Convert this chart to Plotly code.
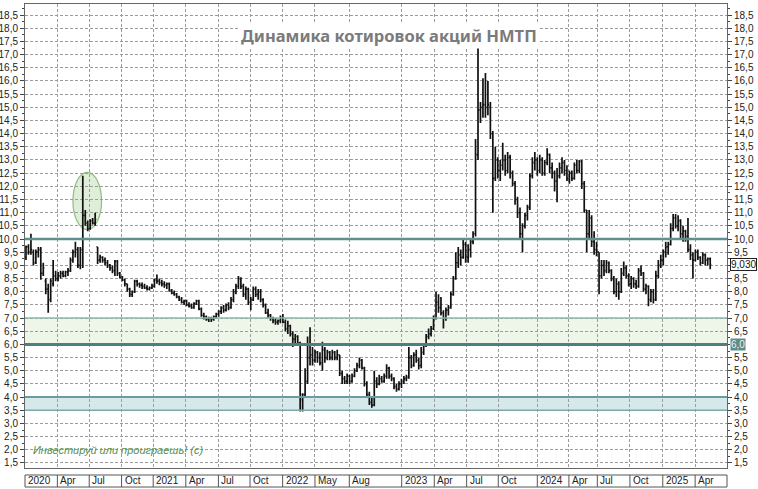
import plotly.graph_objects as go

# Weekly OHLC of NMTP shares, index = trading week counted from the first week of 2020
week_open = [
    9.3, 9.7, 9.5, 9.5, 9.1, 9.5, 9.6, 8.7, 8.4, 8.1,
    7.7, 8.3, 8.6, 8.5, 8.6, 8.7, 8.6, 8.75, 8.8, 9.2,
    9.5, 9.6, 9.0, 9.6, 10.9, 10.6, 10.4, 10.7, 10.6, 9.7,
    9.2, 9.3, 9.2, 9.1, 9.0, 8.9, 8.8, 9.15, 8.7, 8.55,
    8.45, 8.3, 8.1, 7.9, 8.0, 8.4, 8.3, 8.25, 8.2, 8.15,
    8.1, 8.15, 8.2, 8.45, 8.4, 8.35, 8.3, 8.25, 8.3, 8.05,
    7.95, 7.9, 7.8, 7.7, 7.6, 7.65, 7.5, 7.45, 7.4, 7.55,
    7.65, 7.35, 7.1, 7.05, 6.95, 7.0, 6.95, 7.05, 7.15, 7.25,
    7.4, 7.3, 7.5, 7.4, 7.7, 8.0, 8.2, 8.5, 8.2, 7.9,
    8.1, 7.6, 7.7, 8.1, 7.9, 8.0, 7.7, 7.5, 7.2, 7.1,
    7.0, 6.9, 6.85, 6.9, 7.0, 6.85, 6.6, 6.7, 6.4, 6.2,
    6.3, 6.05, 3.9, 4.1, 4.6, 5.5, 5.6, 5.4, 5.7, 5.5,
    5.3, 5.8, 5.5, 5.7, 5.5, 5.7, 5.5, 5.6, 4.9, 4.7,
    4.6, 4.8, 4.6, 4.8, 5.0, 5.2, 5.4, 5.1, 4.5, 4.1,
    3.8, 3.7, 4.6, 4.5, 4.7, 4.6, 4.8, 5.1, 4.8, 4.7,
    4.4, 4.3, 4.5, 4.6, 4.7, 4.75, 5.5, 5.2, 5.6, 5.4,
    5.2, 5.7, 5.95, 6.3, 6.4, 6.6, 7.0, 7.6, 7.4, 7.2,
    7.0, 7.3, 7.4, 7.9, 8.5, 9.1, 9.4, 9.3, 9.8, 9.3,
    9.6, 9.9, 10.2, 13.2, 14.9, 15.0, 15.1, 15.0, 15.0, 14.0,
    12.3, 13.0, 12.6, 12.8, 13.0, 12.6, 13.1, 12.5, 12.1, 11.5,
    11.0, 10.2, 10.5, 10.9, 11.2, 12.4, 12.9, 13.0, 12.6, 13.0,
    12.5, 12.9, 13.2, 12.7, 12.5, 12.2, 12.4, 12.7, 12.9, 12.6,
    12.3, 12.5, 12.3, 12.8, 12.6, 12.95, 12.1, 11.1, 10.2, 10.8,
    9.9, 9.6, 9.5, 8.6, 9.0, 8.8, 9.1, 8.8, 8.5, 8.0,
    8.3, 8.0, 8.7, 8.9, 8.6, 8.3, 8.5, 8.3, 8.2, 8.8,
    8.7, 8.1, 8.2, 7.7, 8.0, 7.7, 8.6, 9.0, 9.2, 9.5,
    9.7, 9.8, 10.4, 10.8, 10.5, 10.7, 10.2, 10.3, 10.1, 9.6,
    9.4, 9.2, 9.5, 9.3, 9.1, 9.4, 9.2, 9.25,
]
week_high = [
    9.75, 9.8, 10.2, 9.6, 9.6, 9.7, 9.7, 9.1, 8.5, 8.3,
    8.5, 9.2, 8.8, 8.75, 8.8, 8.8, 8.8, 8.9, 9.3, 9.6,
    9.9, 9.7, 9.7, 12.4, 11.1, 10.7, 10.75, 10.8, 11.0, 9.7,
    9.4, 9.35, 9.3, 9.2, 9.05, 9.0, 9.2, 9.2, 8.75, 8.6,
    8.5, 8.3, 8.15, 8.05, 8.45, 8.45, 8.35, 8.35, 8.3, 8.25,
    8.2, 8.3, 8.5, 8.65, 8.5, 8.45, 8.4, 8.35, 8.35, 8.1,
    8.05, 7.95, 7.85, 7.8, 7.7, 7.7, 7.6, 7.55, 7.6, 7.7,
    7.7, 7.4, 7.2, 7.1, 7.05, 7.05, 7.1, 7.2, 7.3, 7.45,
    7.5, 7.55, 7.6, 7.8, 8.1, 8.3, 8.6, 8.55, 8.3, 8.2,
    8.15, 7.8, 8.2, 8.2, 8.1, 8.1, 7.75, 7.55, 7.35, 7.15,
    7.05, 7.0, 6.95, 7.1, 7.15, 6.95, 6.9, 6.75, 6.5, 6.4,
    6.35, 6.1, 4.15, 5.1, 6.3, 6.65, 5.9, 5.8, 5.75, 5.7,
    6.1, 5.9, 5.8, 5.75, 5.8, 5.75, 5.8, 5.6, 5.0, 4.8,
    4.9, 4.85, 4.9, 5.1, 5.3, 5.5, 5.45, 5.15, 4.6, 4.2,
    4.0, 5.0, 4.75, 4.85, 4.8, 4.9, 5.25, 5.15, 4.9, 4.75,
    4.5, 4.6, 4.7, 4.8, 4.85, 5.9, 5.6, 5.7, 5.8, 5.5,
    5.9, 6.0, 6.4, 6.6, 6.7, 7.1, 8.0, 7.9, 7.8, 7.3,
    7.4, 7.5, 8.0, 8.6, 9.5, 9.7, 9.6, 10.0, 9.9, 9.8,
    10.0, 10.3, 13.8, 17.4, 15.2, 16.1, 16.3, 16.0, 15.2, 14.1,
    13.5, 13.1, 13.0, 13.65, 13.2, 13.3, 13.2, 12.6, 12.2, 11.6,
    11.2, 10.6, 11.0, 11.3, 12.5, 13.1, 13.3, 13.1, 13.2, 13.1,
    13.0, 13.45, 13.25, 12.9, 12.6, 12.7, 12.9, 13.1, 13.0, 12.8,
    12.6, 12.6, 12.9, 13.0, 13.0, 13.0, 12.2, 11.1, 11.1, 10.9,
    10.3, 9.9, 9.5, 9.2, 9.2, 9.2, 9.15, 8.85, 8.6, 8.5,
    8.4, 8.9, 9.15, 9.0, 8.7, 8.6, 8.55, 8.45, 8.9, 9.0,
    8.75, 8.3, 8.25, 8.1, 8.1, 8.8, 9.2, 9.4, 9.6, 9.9,
    9.9, 10.6, 10.95, 10.95, 10.9, 10.75, 10.5, 10.35, 10.8, 9.8,
    9.5, 9.6, 9.6, 9.35, 9.5, 9.45, 9.3, 9.3,
]
week_low = [
    9.2, 9.4, 9.4, 9.0, 9.05, 9.3, 8.45, 8.6, 7.9, 7.2,
    7.6, 8.2, 8.4, 8.4, 8.5, 8.55, 8.55, 8.6, 8.75, 9.1,
    9.3, 8.9, 8.85, 8.9, 10.5, 10.3, 10.35, 10.55, 10.5, 9.05,
    9.1, 9.1, 9.0, 8.9, 8.8, 8.7, 8.6, 8.6, 8.5, 8.4,
    8.2, 8.0, 7.8, 7.8, 7.95, 8.2, 8.15, 8.1, 8.1, 8.05,
    8.05, 8.1, 8.15, 8.3, 8.25, 8.2, 8.15, 8.1, 8.0, 7.9,
    7.85, 7.75, 7.65, 7.55, 7.5, 7.45, 7.4, 7.35, 7.35, 7.5,
    7.3, 7.05, 6.95, 6.9, 6.85, 6.85, 6.9, 7.0, 7.05, 7.15,
    7.2, 7.25, 7.3, 7.35, 7.6, 7.9, 8.1, 8.1, 7.8, 7.7,
    7.5, 7.3, 7.65, 7.8, 7.7, 7.6, 7.4, 7.15, 7.0, 6.9,
    6.8, 6.75, 6.75, 6.8, 6.8, 6.5, 6.4, 6.3, 5.9, 6.05,
    5.95, 3.45, 3.45, 4.0, 4.5, 5.2, 5.2, 5.3, 5.3, 5.2,
    5.0, 5.3, 5.4, 5.4, 5.4, 5.4, 5.4, 4.8, 4.5, 4.5,
    4.5, 4.5, 4.55, 4.75, 4.95, 5.1, 5.05, 4.4, 4.0, 3.7,
    3.6, 3.65, 4.35, 4.45, 4.55, 4.55, 4.7, 4.7, 4.6, 4.3,
    4.2, 4.25, 4.35, 4.5, 4.6, 4.7, 5.1, 5.15, 5.3, 5.05,
    5.1, 5.6, 5.9, 6.2, 6.3, 6.55, 6.95, 7.2, 7.1, 6.6,
    6.9, 7.1, 7.35, 7.85, 8.45, 8.9, 9.0, 9.25, 9.1, 9.1,
    9.3, 9.8, 10.1, 13.0, 14.4, 14.6, 14.6, 14.7, 13.8, 11.0,
    12.2, 12.3, 12.2, 12.6, 12.4, 12.5, 12.3, 12.0, 11.3, 10.8,
    10.0, 9.5, 10.4, 10.7, 11.1, 12.3, 12.6, 12.4, 12.5, 12.4,
    12.4, 12.8, 12.5, 12.3, 11.8, 11.4, 12.3, 12.5, 12.4, 12.2,
    12.1, 12.2, 12.25, 12.5, 12.5, 11.9, 11.0, 9.5, 10.0, 9.7,
    9.4, 9.35, 7.9, 8.5, 8.6, 8.7, 8.7, 8.4, 7.9, 7.8,
    7.7, 7.95, 8.6, 8.5, 8.2, 8.1, 8.15, 8.1, 8.15, 8.6,
    8.0, 7.9, 7.45, 7.6, 7.55, 7.65, 8.5, 8.9, 9.0, 9.3,
    9.4, 9.75, 10.3, 10.4, 10.3, 10.0, 9.9, 9.9, 9.5, 9.2,
    8.5, 9.15, 9.2, 9.0, 9.05, 9.0, 9.0, 8.85,
]
week_close = [
    9.7, 9.5, 9.6, 9.1, 9.5, 9.6, 8.7, 8.9, 8.1, 7.7,
    8.4, 8.6, 8.5, 8.6, 8.7, 8.6, 8.75, 8.8, 9.2, 9.5,
    9.6, 9.0, 9.6, 10.9, 10.6, 10.4, 10.7, 10.6, 10.75, 9.2,
    9.3, 9.2, 9.1, 9.0, 8.9, 8.8, 9.15, 8.7, 8.55, 8.45,
    8.3, 8.1, 7.9, 8.0, 8.4, 8.3, 8.25, 8.2, 8.15, 8.1,
    8.15, 8.2, 8.45, 8.4, 8.35, 8.3, 8.25, 8.3, 8.05, 7.95,
    7.9, 7.8, 7.7, 7.6, 7.65, 7.5, 7.45, 7.4, 7.55, 7.65,
    7.35, 7.1, 7.05, 6.95, 7.0, 6.95, 7.05, 7.15, 7.25, 7.4,
    7.3, 7.5, 7.4, 7.7, 8.0, 8.2, 8.5, 8.2, 7.9, 8.1,
    7.6, 7.7, 8.1, 7.9, 8.0, 7.7, 7.5, 7.2, 7.1, 7.0,
    6.9, 6.85, 6.9, 7.0, 6.85, 6.6, 6.7, 6.4, 6.2, 6.3,
    6.05, 4.1, 4.1, 4.6, 5.5, 5.6, 5.4, 5.7, 5.5, 5.3,
    5.8, 5.5, 5.7, 5.5, 5.7, 5.5, 5.6, 4.9, 4.7, 4.6,
    4.8, 4.6, 4.8, 5.0, 5.2, 5.4, 5.1, 4.5, 4.1, 3.8,
    3.7, 4.6, 4.5, 4.7, 4.6, 4.8, 5.1, 4.8, 4.7, 4.4,
    4.3, 4.5, 4.6, 4.7, 4.75, 5.5, 5.2, 5.6, 5.4, 5.2,
    5.7, 5.95, 6.3, 6.4, 6.6, 7.0, 7.6, 7.4, 7.2, 7.0,
    7.3, 7.4, 7.9, 8.5, 9.1, 9.4, 9.3, 9.8, 9.3, 9.6,
    9.9, 10.2, 13.2, 14.9, 15.0, 15.1, 15.0, 15.1, 14.0, 12.3,
    13.0, 12.6, 12.8, 13.0, 12.6, 13.1, 12.5, 12.1, 11.5, 11.0,
    10.2, 10.5, 10.9, 11.2, 12.4, 12.9, 13.0, 12.6, 13.0, 12.5,
    12.9, 13.2, 12.7, 12.5, 12.2, 12.4, 12.7, 12.9, 12.6, 12.3,
    12.5, 12.3, 12.8, 12.6, 12.95, 12.1, 11.1, 10.2, 10.8, 9.9,
    9.6, 9.5, 8.6, 9.0, 8.8, 9.1, 8.8, 8.5, 8.0, 8.3,
    8.0, 8.7, 8.9, 8.6, 8.3, 8.5, 8.3, 8.2, 8.8, 8.7,
    8.1, 8.2, 7.7, 8.0, 7.7, 8.6, 9.0, 9.2, 9.5, 9.7,
    9.8, 10.4, 10.8, 10.5, 10.7, 10.2, 10.3, 10.1, 9.6, 9.4,
    9.2, 9.5, 9.3, 9.1, 9.4, 9.2, 9.25, 9.03,
]
weeks = list(range(len(week_close)))

# date strip under the chart (week index where each label starts)
tick_weeks = [-0.4, 12.7, 25.6, 38.7, 51.5, 64.7, 77.9, 90.7, 103.9, 117, 130.9,
              152.1, 165.3, 178.4, 191.2, 207, 219.8, 231.3, 244.5, 257.8, 270.9]
tick_labels = ["2020", "Apr", "Jul", "Oct", "2021", "Apr", "Jul", "Oct", "2022", "May", "Aug",
               "2023", "Apr", "Jul", "Oct", "2024", "Apr", "Jul", "Oct", "2025", "Apr"]

# support / resistance levels
levels = [10.0, 7.0, 6.0, 4.0, 3.5]
level_colors = ["#5e9090", "#8bb8ad", "#4d7f7f", "#6a9c9c", "#7fa9a9"]
level_widths = [2.5, 1.5, 3, 2, 1.5]

last_price = 9.03
y_range = [1.31, 18.92]
x_range = [-0.4, 283.8]

# right scale: the 9,0 and 6,0 labels sit under the price tags
right_ticks = [v / 2 for v in range(3, 38) if v / 2 not in (6.0, 9.0)]

GRID = "#9c9c9c"
AXIS = "#666666"

fig = go.Figure()
for lv, col, w in zip(levels, level_colors, level_widths):
    fig.add_trace(go.Scatter(x=x_range, y=[lv, lv], mode="lines", line=dict(color=col, width=w),
                             showlegend=False, hoverinfo="skip", cliponaxis=True))
fig.add_trace(go.Ohlc(
    x=weeks, open=week_open, high=week_high, low=week_low, close=week_close,
    increasing_line_color="#111111", decreasing_line_color="#111111",
    line_width=1.7, tickwidth=0.45, showlegend=False,
))
# keeps the right-hand price axis alive
fig.add_trace(go.Scatter(x=[weeks[-1]], y=[week_close[-1]], yaxis="y2", mode="markers",
                         marker_opacity=0, showlegend=False, hoverinfo="skip"))

# shaded zones
fig.add_shape(type="rect", xref="x domain", x0=0, x1=1, yref="y", y0=6.0, y1=7.0,
              fillcolor="#eef6ea", line_width=0, layer="below")
fig.add_shape(type="rect", xref="x domain", x0=0, x1=1, yref="y", y0=3.5, y1=4.0,
              fillcolor="#d5e9ea", line_width=0, layer="below")

# highlighted June 2020 spike
fig.add_shape(type="circle", xref="x", yref="y", x0=19, x1=30.6, y0=10.36, y1=12.53,
              fillcolor="rgba(150,200,130,0.3)", line=dict(color="rgba(110,170,90,0.75)", width=1.2),
              layer="below")

# date strip
fig.add_shape(type="rect", xref="x domain", x0=0, x1=1, yref="paper", y0=-0.041, y1=-0.0151,
              line=dict(color="#555555", width=1), fillcolor="white", layer="above")
for tw, lab in zip(tick_weeks, tick_labels):
    if tw > 0:
        fig.add_shape(type="line", xref="x", x0=tw, x1=tw, yref="paper", y0=-0.041, y1=-0.0151,
                      line=dict(color="#555555", width=1), layer="above")
    fig.add_annotation(x=max(tw, x_range[0]), xref="x", y=-0.028, yref="paper", text=lab,
                       showarrow=False, xanchor="left", yanchor="middle", xshift=1,
                       font=dict(size=10, color="#222222"))

# title and watermark
fig.add_annotation(x=0.5185, xref="paper", y=0.961, yref="paper",
                   text="<b>Динамика котировок акций НМТП</b>", showarrow=False,
                   bgcolor="white", font=dict(family="Noto Sans", size=16.5, color="#7b7b7b"))
fig.add_annotation(x=0.008, xref="paper", y=2.0, yref="y", xanchor="left",
                   text="Инвестируй или проиграешь! (с)", showarrow=False,
                   font=dict(family="Liberation Sans", size=11, color="#5d8f4f", style="italic"))

# right-hand price tags
fig.add_annotation(x=1, xref="paper", y=last_price, yref="y", xanchor="left", xshift=3,
                   text="9,030", showarrow=False, bgcolor="white", bordercolor="#222222",
                   borderwidth=1, borderpad=0, font=dict(size=10, color="#111111"))
fig.add_annotation(x=1, xref="paper", y=6.0, yref="y", xanchor="left", xshift=3,
                   text="6,0", showarrow=False, bgcolor="#5a8c8c", borderpad=0,
                   font=dict(size=10, color="#e8f4f4"))

fig.update_layout(
    width=758, height=489,
    margin=dict(l=25, r=31, t=4, b=21),
    paper_bgcolor="white", plot_bgcolor="white",
    separators=", ",
    font=dict(family="Liberation Sans", size=10, color="#222222"),
    showlegend=False,
    xaxis=dict(range=x_range, tickvals=tick_weeks[1:], showticklabels=False, ticks="",
               showgrid=True, gridcolor=GRID, griddash="3px,2px", gridwidth=1,
               showline=True, mirror=True, linecolor=AXIS, linewidth=1, automargin=False,
               zeroline=False, rangeslider=dict(visible=False)),
    yaxis=dict(range=y_range, dtick=0.5, tick0=0, tickformat=".1f", automargin=False,
               showgrid=True, gridcolor=GRID, griddash="3px,2px", gridwidth=1,
               showline=True, mirror=True, linecolor=AXIS, linewidth=1,
               ticks="outside", ticklen=4, tickcolor="#444444", zeroline=False,
               minor=dict(dtick=0.25, ticklen=2, tickcolor="#444444", showgrid=False)),
    yaxis2=dict(range=y_range, tickvals=right_ticks, tickformat=".1f", overlaying="y", side="right",
                anchor="x", showgrid=False, ticks="outside", ticklen=4, tickcolor="#444444",
                zeroline=False, showline=False, automargin=False,
                minor=dict(dtick=0.25, ticklen=2, tickcolor="#444444", showgrid=False)),
)

# the page body has a default 8px margin; drop it so the figure fills the window
fig.write_html("out.html", config={"displayModeBar": False},
               post_script="document.body.style.margin='0';")
